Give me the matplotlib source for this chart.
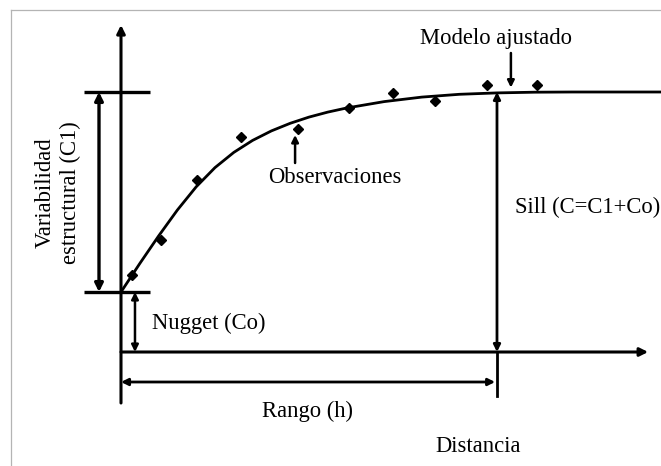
import matplotlib
matplotlib.use("Agg")
import matplotlib.pyplot as plt

# model parameters (semivariance units)
nugget = 0.3
sill = 1.3
rango = 10.0

# fitted model curve
curve_h = [0.0, 0.5, 1.0, 1.5, 2.0, 2.5, 3.0, 3.5, 4.0, 4.5, 5.0, 5.5, 6.0, 7.0,
           8.0, 9.0, 10.0, 11.0, 12.0, 14.4]
curve_g = [0.300, 0.4425, 0.580, 0.710, 0.826, 0.922, 0.998, 1.058, 1.1055, 1.1435,
           1.1745, 1.1995, 1.220, 1.252, 1.2745, 1.2885, 1.2955, 1.299, 1.300, 1.300]

# observed points
obs_h = [0.29, 1.06, 2.02, 3.19, 4.71, 6.06, 7.23, 8.35, 9.73, 11.06]
obs_g = [0.385, 0.56, 0.86, 1.075, 1.115, 1.22, 1.295, 1.255, 1.335, 1.335]

font = "Liberation Serif"
fs = 16.3

fig = plt.figure(figsize=(6.61, 4.66), dpi=100)
ax = fig.add_axes([0, 0, 1, 1])
ax.set_xlim(-3.218, 14.362)
ax.set_ylim(-0.57, 1.76)
ax.axis("off")

# light gray frame (top and left only)
ax.plot([0.0166, 0.0166], [0, 0.9785], transform=ax.transAxes, color="#b4b4b4", lw=0.9)
ax.plot([0.0166, 1.0], [0.9785, 0.9785], transform=ax.transAxes, color="#b4b4b4", lw=0.9)


def arrow(x0, y0, x1, y1, style, lw=2.0, ms=12):
    ax.annotate("", xy=(x1, y1), xytext=(x0, y0),
                arrowprops=dict(arrowstyle=style, color="k", lw=lw, shrinkA=0, shrinkB=0,
                                mutation_scale=ms))


# axes
arrow(0, -0.255, 0, 1.635, "-|>", lw=2.2)
arrow(0, 0, 14.02, 0, "-|>", lw=2.2)

# nugget and sill bars
ax.plot([-0.984, 0.771], [sill, sill], color="k", lw=2.4, solid_capstyle="butt")
ax.plot([-0.984, 0.771], [nugget, nugget], color="k", lw=2.4, solid_capstyle="butt")

# structural variability C1
arrow(-0.585, nugget, -0.585, sill, "<|-|>", lw=2.4)
# nugget
arrow(0.372, 0, 0.372, nugget, "<|-|>", lw=1.8, ms=10)
# range
arrow(0, -0.15, rango - 0.05, -0.15, "<|-|>", lw=2.0, ms=10)
# sill line
ax.plot([rango, rango], [-0.22, 0], color="k", lw=2.0)
arrow(rango, 0, rango, sill, "<|-|>", lw=2.0, ms=10)

# model curve and observations
ax.plot(curve_h, curve_g, color="k", lw=2.0, solid_joinstyle="round")
ax.plot(obs_h, obs_g, "D", color="k", ms=5)

# pointers
arrow(10.37, 1.495, 10.37, 1.322, "-|>", lw=1.8, ms=10)
arrow(4.63, 0.945, 4.63, 1.085, "-|>", lw=1.8, ms=10)

# labels
ax.text(9.97, 1.54, "Modelo ajustado", family=font, fontsize=fs, ha="center", va="baseline")
ax.text(5.69, 0.845, "Observaciones", family=font, fontsize=fs, ha="center", va="baseline")
ax.text(10.48, 0.695, "Sill (C=C1+Co)", family=font, fontsize=fs, ha="left", va="baseline")
ax.text(0.82, 0.115, "Nugget (Co)", family=font, fontsize=fs, ha="left", va="baseline")
ax.text(3.75, -0.325, "Rango (h)", family=font, fontsize=fs, ha="left", va="baseline")
ax.text(8.35, -0.50, "Distancia", family=font, fontsize=fs, ha="left", va="baseline")
ax.text(-1.676, 0.795, "Variabilidad\nestructural (C1)", family=font, fontsize=fs,
        rotation=90, ha="center", va="center", multialignment="center", linespacing=1.3)

fig.savefig("out.png", dpi=100)
